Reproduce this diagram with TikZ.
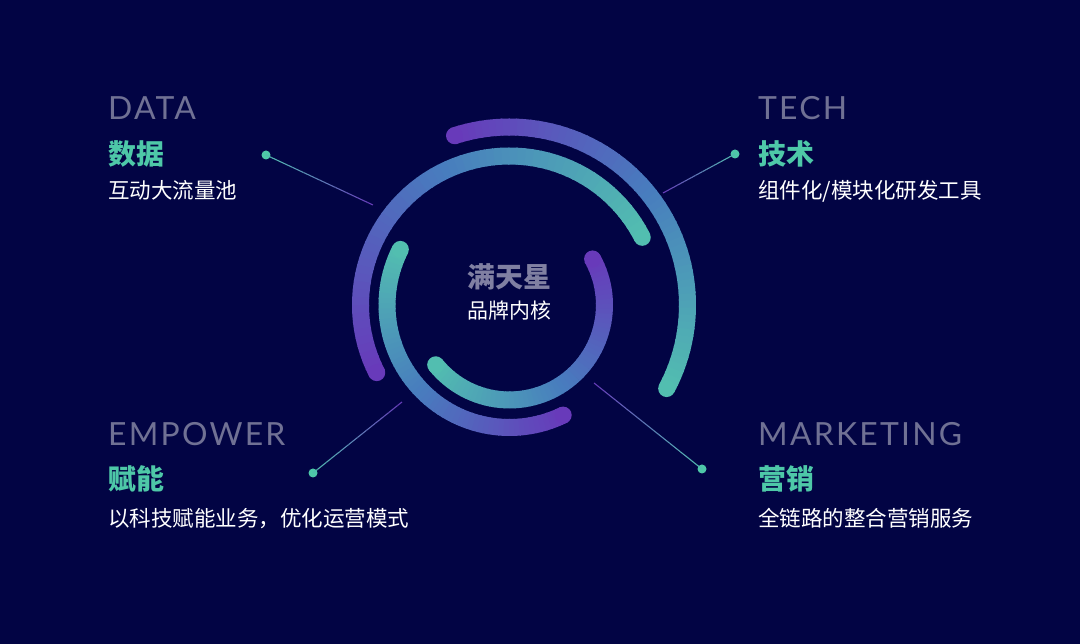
\documentclass[tikz,border=0pt]{standalone}
\usepackage{fontspec}
\setmainfont{Lato}
\newfontfamily\titlefont[LetterSpace=7]{Lato}
\newfontfamily\cjk{Noto Sans CJK SC}
\usetikzlibrary{calc}
\definecolor{bg}{RGB}{2,4,68}
\definecolor{rpurple}{RGB}{104,58,186}
\definecolor{rblue}{RGB}{72,124,190}
\definecolor{rteal}{RGB}{82,190,176}
\definecolor{titlegray}{RGB}{112,113,148}
\definecolor{headteal}{RGB}{78,200,168}
\definecolor{centergray}{RGB}{128,128,162}
\tikzset{
  ringseg/.style={line width=17bp, line cap=butt},
  entitle/.style={anchor=base west, inner sep=0pt, text=titlegray, font=\titlefont\fontsize{32}{36}\selectfont},
  cnhead/.style={anchor=base west, inner sep=0pt, text=headteal, font=\cjk\bfseries\fontsize{28}{32}\selectfont},
  cnbody/.style={anchor=base west, inner sep=0pt, text=white, font=\cjk\fontsize{21.6}{25}\selectfont},
  dotnode/.style={circle, fill=headteal, inner sep=0pt, minimum size=9bp},
}
\newcommand{\ringarc}[3]{%
  \foreach \i in {0,...,59}{%
    \pgfmathsetmacro{\aa}{#2+(#3-#2)*\i/60}%
    \pgfmathsetmacro{\bb}{#2+(#3-#2)*(\i+1)/60+0.5}%
    \ifnum\i<30
      \pgfmathtruncatemacro{\pp}{round(100*(\i+0.5)/30)}%
      \colorlet{segc}{rblue!\pp!rteal}%
    \else
      \pgfmathtruncatemacro{\pp}{round(100*(\i-29.5)/30)}%
      \colorlet{segc}{rpurple!\pp!rblue}%
    \fi
    \draw[ringseg, segc] ($(ctr)+(\aa:#1)$) arc[start angle=\aa, end angle=\bb, radius=#1];
  }%
  \fill[rteal] ($(ctr)+(#2:#1)$) circle (8.5);
  \fill[rpurple] ($(ctr)+(#3:#1)$) circle (8.5);
}
\newcommand{\gradline}[2]{%
  \foreach \j in {0,...,19}{%
    \pgfmathsetmacro{\ta}{\j/20}%
    \pgfmathsetmacro{\tb}{(\j+1)/20}%
    \pgfmathtruncatemacro{\qq}{round(100*(\j+0.5)/20)}%
    \draw[line width=1.1bp, rteal!\qq!rpurple] ($(#1)!\ta!(#2)$) -- ($(#1)!\tb!(#2)$);
  }%
}
\begin{document}
\begin{tikzpicture}[x=1bp, y=1bp]
\fill[bg] (0,0) rectangle (1080,644);
\useasboundingbox (0,0) rectangle (1080,644);
\coordinate (ctr) at (509.5,339);
% rings (teal end -> purple end, counter-clockwise)
\ringarc{178}{-28}{108}
\ringarc{149}{27}{207}
\ringarc{122.5}{153}{296}
\ringarc{95}{219}{389}
% centre text
\node[anchor=base, inner sep=0pt, text=centergray, font=\cjk\bfseries\fontsize{28}{32}\selectfont] (core) at (509.5,356) {满天星};
\node[anchor=base, inner sep=0pt, text=white, font=\cjk\fontsize{21}{25}\selectfont] (coresub) at (509.5,325.5) {品牌内核};
% connectors
\coordinate (e1) at (373,439);
\coordinate (e2) at (663,451);
\coordinate (e3) at (402,242);
\coordinate (e4) at (594,261);
\node[dotnode] (d1) at (266,489) {};
\node[dotnode] (d2) at (735,490) {};
\node[dotnode] (d3) at (313,171) {};
\node[dotnode] (d4) at (702,175) {};
\gradline{e1}{d1.center}
\gradline{e2}{d2.center}
\gradline{e3}{d3.center}
\gradline{e4}{d4.center}
% labels
\node[entitle] (t1) at (108,524) {DATA};
\node[cnhead] (h1) at (108,479) {数据};
\node[cnbody] (b1) at (108,445.5) {互动大流量池};
\node[entitle] (t2) at (758,524) {TECH};
\node[cnhead] (h2) at (758,479) {技术};
\node[cnbody] (b2) at (758,445.5) {组件化/模块化研发工具};
\node[entitle] (t3) at (108,198) {EMPOWER};
\node[cnhead] (h3) at (108,154) {赋能};
\node[cnbody] (b3) at (108,117.5) {以科技赋能业务，优化运营模式};
\node[entitle] (t4) at (758,198) {MARKETING};
\node[cnhead] (h4) at (758,154) {营销};
\node[cnbody] (b4) at (758,117.5) {全链路的整合营销服务};
\end{tikzpicture}
\end{document}
